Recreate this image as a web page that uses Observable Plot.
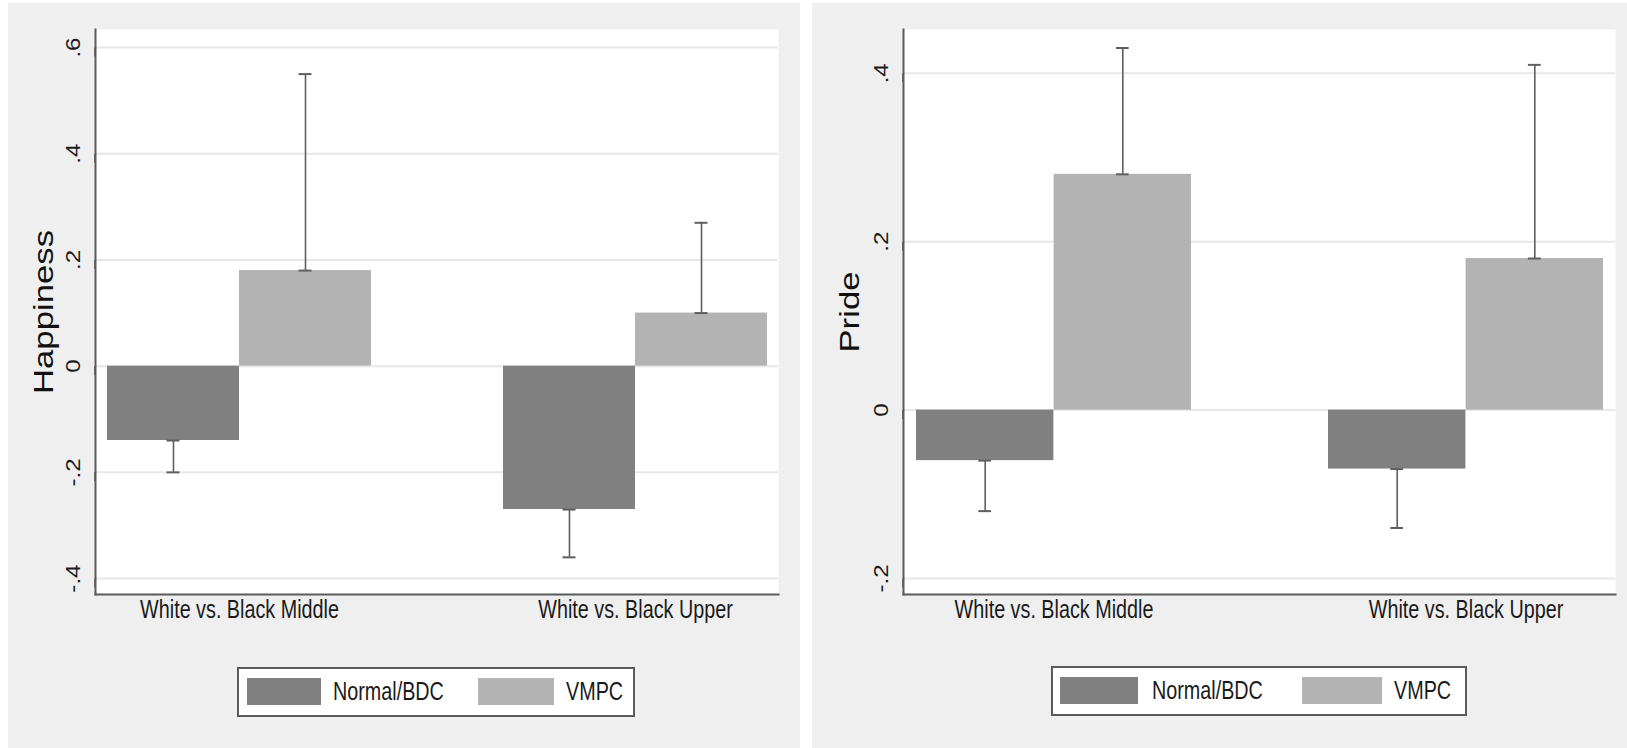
<!DOCTYPE html>
<html>
<head>
<meta charset="utf-8">
<script src="https://cdn.jsdelivr.net/npm/d3@7"></script>
<script src="https://cdn.jsdelivr.net/npm/@observablehq/plot@0.6"></script>
<style>
  html, body { margin: 0; padding: 0; background: #ffffff; }
  #wrap { position: relative; width: 1627px; height: 748px; overflow: hidden; }
  .panel { position: absolute; background: #efefef; }
  .panel svg { position: absolute; left: 0; top: 0; overflow: visible; }
  .legend {
    position: absolute; box-sizing: border-box; background: #ffffff;
    border: 2px solid #5a5a5a;
    font-family: "Liberation Sans", Arial, sans-serif;
    font-size: 26px; color: #1a1a1a;
  }
  .legend .sw { position: absolute; top: 9px; height: 27px; }
  .legend span { position: absolute; top: 7px; line-height: 30px; white-space: nowrap;
    transform: scaleX(0.76); transform-origin: 0 50%; }
</style>
</head>
<body>
<div id="wrap">
  <div class="panel" id="left" style="left:8px;top:3px;width:792px;height:745px;"></div>
  <div class="panel" id="right" style="left:812px;top:3px;width:815px;height:745px;"></div>
</div>
<script>
// ---- data ----
const groups = ["White vs. Black Middle", "White vs. Black Upper"];
const seriesNames = ["Normal/BDC", "VMPC"];
const seriesColors = ["#808080", "#b3b3b3"];

const happinessNormal = [-0.14, -0.27];
const happinessNormalCI = [-0.20, -0.36];
const happinessVMPC = [0.18, 0.10];
const happinessVMPCCI = [0.55, 0.27];

const prideNormal = [-0.06, -0.07];
const prideNormalCI = [-0.12, -0.14];
const prideVMPC = [0.28, 0.18];
const prideVMPCCI = [0.43, 0.41];

const happinessTicks = [-0.4, -0.2, 0, 0.2, 0.4, 0.6];
const happinessTickLabels = ["-.4", "-.2", "0", ".2", ".4", ".6"];
const prideTicks = [-0.2, 0, 0.2, 0.4];
const prideTickLabels = ["-.2", "0", ".2", ".4"];

const happinessDomain = [-0.43, 0.634];
const prideDomain = [-0.219, 0.452];

function buildRows(normal, normalCI, vmpc, vmpcCI) {
  const rows = [];
  groups.forEach((g, i) => {
    rows.push({group: g, series: seriesNames[0], value: normal[i], ci: normalCI[i]});
    rows.push({group: g, series: seriesNames[1], value: vmpc[i], ci: vmpcCI[i]});
  });
  return rows;
}

const regular = "'Liberation Sans', Arial, sans-serif";

// stretch or condense text glyphs (the reference image is stretched vertically)
function scaleText(sel, factor) {
  sel.each(function() {
    const len = this.getComputedTextLength();
    this.setAttribute("textLength", (len * factor).toFixed(1));
    this.setAttribute("lengthAdjust", "spacingAndGlyphs");
  });
}

function makePanel(cfg) {
  const pI = 1 / 3, pO = 0.029;
  const innerW = cfg.width - cfg.marginLeft - cfg.marginRight;
  const step = innerW / (groups.length - pI + 2 * pO);
  const bw = step * (1 - pI);
  const capHalf = 6.5;
  const rows = cfg.rows;
  const rN = rows.filter(d => d.series === seriesNames[0]);
  const rV = rows.filter(d => d.series === seriesNames[1]);
  const errColor = "#5f5f5f";
  const axisColor = "#5a5a5a";

  const svg = Plot.plot({
    width: cfg.width,
    height: cfg.height,
    marginLeft: cfg.marginLeft,
    marginRight: cfg.marginRight,
    marginTop: cfg.marginTop,
    marginBottom: cfg.marginBottom,
    style: {background: "transparent", overflow: "visible"},
    x: {type: "band", domain: groups, paddingInner: pI, paddingOuter: pO, align: 0.5, label: null},
    y: {domain: cfg.domain, label: null},
    marks: [
      Plot.frame({fill: "#ffffff", stroke: null}),
      Plot.gridY(cfg.ticks, {stroke: "#e8e8e8", strokeOpacity: 1, strokeWidth: 2}),
      Plot.barY(rN, {x: "group", y: "value", fill: seriesColors[0], insetRight: bw / 2}),
      Plot.barY(rV, {x: "group", y: "value", fill: seriesColors[1], insetLeft: bw / 2}),
      Plot.ruleX(rN, {x: "group", y1: "value", y2: "ci", dx: -bw / 4, stroke: errColor, strokeWidth: 1.6}),
      Plot.ruleX(rV, {x: "group", y1: "value", y2: "ci", dx: bw / 4, stroke: errColor, strokeWidth: 1.6}),
      Plot.tickY(rN, {x: "group", y: "ci", insetLeft: bw / 4 - capHalf, insetRight: 3 * bw / 4 - capHalf, stroke: errColor, strokeWidth: 2}),
      Plot.tickY(rN, {x: "group", y: "value", insetLeft: bw / 4 - capHalf, insetRight: 3 * bw / 4 - capHalf, stroke: errColor, strokeWidth: 2}),
      Plot.tickY(rV, {x: "group", y: "ci", insetLeft: 3 * bw / 4 - capHalf, insetRight: bw / 4 - capHalf, stroke: errColor, strokeWidth: 2}),
      Plot.tickY(rV, {x: "group", y: "value", insetLeft: 3 * bw / 4 - capHalf, insetRight: bw / 4 - capHalf, stroke: errColor, strokeWidth: 2}),
      Plot.frame({anchor: "left", stroke: axisColor, strokeWidth: 2}),
      Plot.frame({anchor: "bottom", stroke: axisColor, strokeWidth: 2}),
      Plot.axisY(cfg.ticks, {
        tickFormat: d => cfg.tickLabels[cfg.ticks.indexOf(d)],
        tickSize: 9, tickPadding: 13, stroke: axisColor, strokeWidth: 1.6,
        rotate: -90, textAnchor: "middle", lineAnchor: "middle",
        fontSize: 21, fontFamily: regular, fill: "#1a1a1a", label: null
      }),
      Plot.axisX({tickSize: 0, tickPadding: 5, fontSize: 26, fontFamily: regular, fill: "#1a1a1a", label: null}),
      Plot.text([cfg.yLabel], {
        frameAnchor: "left", dx: cfg.labelDx, rotate: -90, textAnchor: "middle",
        fontSize: 28, fontFamily: regular, fill: "#111"
      })
    ]
  });
  cfg.container.appendChild(svg);
  scaleText(d3.select(svg).selectAll('g[aria-label="text"] text'), 1.24);
  scaleText(d3.select(svg).selectAll('g[aria-label="y-axis tick label"] text'), 1.15);
  scaleText(d3.select(svg).selectAll('g[aria-label="x-axis tick label"] text'), 0.76);

  // legend
  const lg = document.createElement("div");
  lg.className = "legend";
  Object.assign(lg.style, cfg.legendBox);
  seriesNames.forEach((name, i) => {
    const sw = document.createElement("div");
    sw.className = "sw";
    sw.style.background = seriesColors[i];
    sw.style.width = cfg.legendSw[i] + "px";
    sw.style.left = cfg.legendSwLeft[i] + "px";
    const t = document.createElement("span");
    t.textContent = name;
    t.style.left = cfg.legendTextLeft[i] + "px";
    lg.appendChild(sw);
    lg.appendChild(t);
  });
  cfg.container.appendChild(lg);
}

makePanel({
  container: document.getElementById("left"),
  rows: buildRows(happinessNormal, happinessNormalCI, happinessVMPC, happinessVMPCCI),
  width: 792, height: 630,
  marginLeft: 87, marginRight: 22, marginTop: 26, marginBottom: 39,
  domain: happinessDomain, ticks: happinessTicks, tickLabels: happinessTickLabels,
  yLabel: "Happiness", labelDx: -51,
  legendBox: {left: "229px", top: "664px", width: "398px", height: "50px"},
  legendSw: [74, 76], legendSwLeft: [8, 239], legendTextLeft: [94, 327]
});

makePanel({
  container: document.getElementById("right"),
  rows: buildRows(prideNormal, prideNormalCI, prideVMPC, prideVMPCCI),
  width: 815, height: 630,
  marginLeft: 91, marginRight: 12, marginTop: 26, marginBottom: 39,
  domain: prideDomain, ticks: prideTicks, tickLabels: prideTickLabels,
  yLabel: "Pride", labelDx: -53,
  legendBox: {left: "239px", top: "663px", width: "416px", height: "50px"},
  legendSw: [78, 80], legendSwLeft: [7, 249], legendTextLeft: [99, 341]
});
</script>
</body>
</html>
